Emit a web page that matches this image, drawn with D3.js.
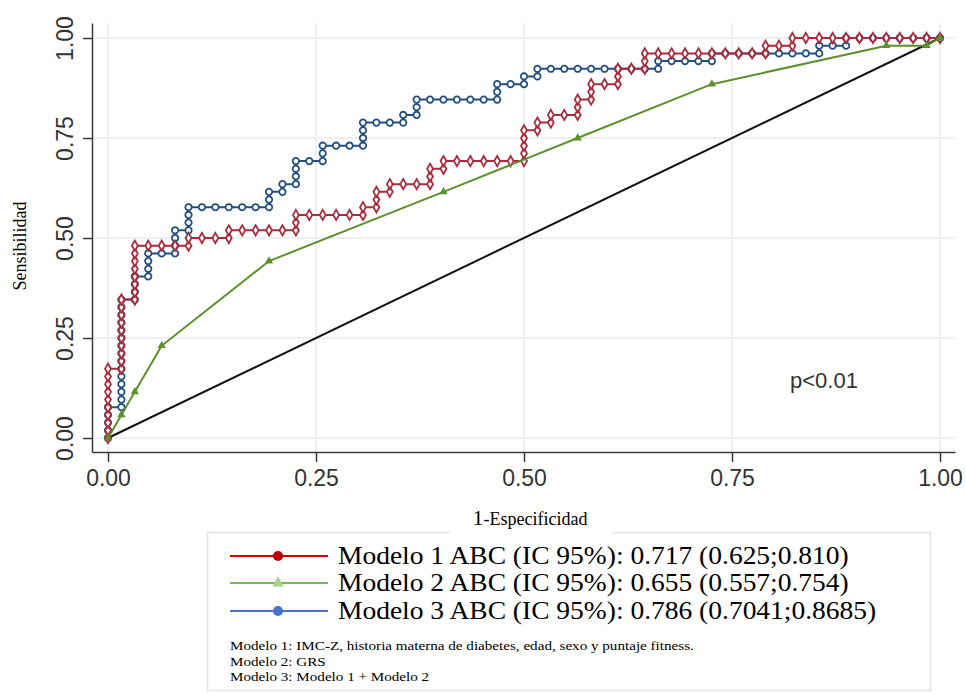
<!DOCTYPE html>
<html>
<head>
<meta charset="utf-8">
<script src="https://cdn.jsdelivr.net/npm/d3@7"></script>
<style>
  html, body { margin: 0; padding: 0; background: #fff; }
  svg { display: block; }
</style>
</head>
<body>
<svg id="chart" width="966" height="694"></svg>
<script>
// ROC curves: each point is [false positives, true positives] out of the group sizes below
const nNegatives = 62;
const nPositives = 52;

const model1Points = [
  [0,0],[0,1],[0,2],[0,3],[0,4],[0,5],[0,6],[0,7],[0,8],[0,9],
  [1,9],[1,10],[1,11],[1,12],[1,13],[1,14],[1,15],[1,16],[1,17],[1,18],
  [2,18],[2,19],[2,20],[2,21],[2,22],[2,23],[2,24],[2,25],
  [3,25],[4,25],[5,25],[6,25],[6,26],[7,26],[8,26],[9,26],[9,27],
  [10,27],[11,27],[12,27],[13,27],[14,27],[14,28],[14,29],
  [15,29],[16,29],[17,29],[18,29],[19,29],[19,30],[20,30],[20,31],[20,32],
  [21,32],[21,33],[22,33],[23,33],[24,33],[24,34],[24,35],[25,35],[25,36],
  [26,36],[27,36],[28,36],[29,36],[30,36],[31,36],[31,37],[31,38],[31,39],[31,40],
  [32,40],[32,41],[33,41],[33,42],[34,42],[35,42],[35,43],[35,44],[36,44],[36,45],[36,46],
  [37,46],[38,46],[38,47],[38,48],[39,48],[40,48],[40,49],[40,50],
  [41,50],[42,50],[43,50],[44,50],[45,50],[46,50],[47,50],[48,50],[49,50],
  [49,51],[50,51],[51,51],[51,52],
  [52,52],[53,52],[54,52],[55,52],[56,52],[57,52],[58,52],[59,52],[60,52],[61,52],[62,52]
];

const model2Points = [
  [0,0],[1,3],[2,6],[4,12],[12,23],[25,32],[35,39],[45,46],[58,51],[61,51],[62,52]
];

const model3Points = [
  [0,0],[0,1],[0,2],[0,3],[0,4],
  [1,4],[1,5],[1,6],[1,7],[1,8],[1,9],[1,10],[1,11],[1,12],[1,13],[1,14],[1,15],[1,16],[1,17],[1,18],
  [2,18],[2,19],[2,20],[2,21],[3,21],[3,22],[3,23],[3,24],[4,24],[5,24],[5,25],[5,26],[5,27],
  [6,27],[6,28],[6,29],[6,30],[7,30],[8,30],[9,30],[10,30],[11,30],[12,30],[12,31],[12,32],
  [13,32],[13,33],[14,33],[14,34],[14,35],[14,36],[15,36],[16,36],[16,37],[16,38],
  [17,38],[18,38],[19,38],[19,39],[19,40],[19,41],[20,41],[21,41],[22,41],[22,42],
  [23,42],[23,43],[23,44],[24,44],[25,44],[26,44],[27,44],[28,44],[29,44],[29,45],[29,46],
  [30,46],[31,46],[31,47],[32,47],[32,48],[33,48],[34,48],[35,48],[36,48],[37,48],[38,48],
  [39,48],[40,48],[41,48],[41,49],[42,49],[43,49],[44,49],[45,49],[45,50],
  [46,50],[47,50],[48,50],[49,50],[50,50],[51,50],[52,50],[53,50],[53,51],[54,51],[55,51],[55,52],
  [56,52],[57,52],[58,52],[59,52],[60,52],[61,52],[62,52]
];

const referenceLine = [[0,0],[1,1]];

const tickValues = [0, 0.25, 0.5, 0.75, 1];

const legendLabels = [
  "Modelo 1 ABC (IC 95%): 0.717 (0.625;0.810)",
  "Modelo 2 ABC (IC 95%): 0.655 (0.557;0.754)",
  "Modelo 3 ABC (IC 95%): 0.786 (0.7041;0.8685)"
];

const footnotes = [
  "Modelo 1: IMC-Z, historia materna de diabetes, edad, sexo y puntaje fitness.",
  "Modelo 2: GRS",
  "Modelo 3: Modelo 1 + Modelo 2"
];

const svg = d3.select("#chart");

// plot frame
const frame = { left: 92, right: 955, top: 23, bottom: 452 };

const x = d3.scaleLinear().domain([0, 1]).range([108, 940]);
const y = d3.scaleLinear().domain([0, 1]).range([438, 38]);

// axis scales share the mapping but span the whole frame
const xAxisScale = x.copy().domain([x.invert(frame.left), x.invert(frame.right)]).range([frame.left, frame.right]);
const yAxisScale = y.copy().domain([y.invert(frame.bottom), y.invert(frame.top)]).range([frame.bottom, frame.top]);

const sansFont = "'Liberation Sans', Arial, sans-serif";
const serifFont = "'Liberation Serif', 'Times New Roman', serif";

// grid
const grid = svg.append("g").attr("stroke", "#e6ebee").attr("stroke-width", 1.5);
grid.selectAll("line.gx").data(tickValues).join("line")
  .attr("x1", d => x(d)).attr("x2", d => x(d))
  .attr("y1", frame.top).attr("y2", frame.bottom);
grid.selectAll("line.gy").data(tickValues).join("line")
  .attr("x1", frame.left).attr("x2", frame.right)
  .attr("y1", d => y(d)).attr("y2", d => y(d));

// axes
const fmt = d3.format(".2f");
const xAxis = svg.append("g")
  .attr("transform", `translate(0,${frame.bottom})`)
  .call(d3.axisBottom(xAxisScale).tickValues(tickValues).tickFormat(fmt).tickSize(10).tickSizeOuter(0).tickPadding(8));
const yAxis = svg.append("g")
  .attr("transform", `translate(${frame.left},0)`)
  .call(d3.axisLeft(yAxisScale).tickValues(tickValues).tickFormat(fmt).tickSize(9).tickSizeOuter(0));

[xAxis, yAxis].forEach(g => {
  g.select(".domain").attr("stroke", "#3a3a3a").attr("stroke-width", 1.5);
  g.selectAll(".tick line").attr("stroke", "#3a3a3a").attr("stroke-width", 1.5);
  g.selectAll(".tick text").attr("fill", "#333").style("font-family", sansFont).style("font-size", "23px");
});
yAxis.selectAll(".tick text")
  .attr("x", 0).attr("y", -27).attr("dy", "0.36em")
  .attr("text-anchor", "middle")
  .attr("transform", "rotate(-90)");

// curves
const line = d3.line().x(d => x(d[0])).y(d => y(d[1]));
const toRate = pts => pts.map(([fp, tp]) => [fp / nNegatives, tp / nPositives]);

const series = [
  { pts: toRate(model3Points), color: "#234f80", marker: "circle" },
  { pts: toRate(model1Points), color: "#a92c3c", marker: "diamond" },
  { pts: toRate(model2Points), color: "#5e8f2c", marker: "triangle" }
];

// reference diagonal
svg.append("path")
  .datum(referenceLine)
  .attr("d", line)
  .attr("fill", "none").attr("stroke", "#111").attr("stroke-width", 2);

const symbolTypes = { circle: d3.symbolCircle, diamond: d3.symbolDiamond, triangle: d3.symbolTriangle };

series.forEach(s => {
  const g = svg.append("g");
  g.append("path")
    .datum(s.pts)
    .attr("d", line)
    .attr("fill", "none").attr("stroke", s.color).attr("stroke-width", 2)
    .attr("stroke-linejoin", "round");
  if (s.marker === "triangle") {
    g.selectAll("path.m").data(s.pts).join("path")
      .attr("transform", d => `translate(${x(d[0])},${y(d[1])})`)
      .attr("d", d3.symbol(symbolTypes.triangle, 30))
      .attr("fill", s.color);
  } else {
    g.selectAll("path.m").data(s.pts).join("path")
      .attr("transform", d => `translate(${x(d[0])},${y(d[1])})`)
      .attr("d", d3.symbol(symbolTypes[s.marker], s.marker === "circle" ? 32 : 30))
      .attr("fill", "#fff").attr("stroke", s.color).attr("stroke-width", 1.8);
  }
});

// annotation
svg.append("text")
  .attr("x", 790).attr("y", 388)
  .attr("fill", "#333")
  .style("font-family", sansFont).style("font-size", "22px")
  .text("p<0.01");

// axis titles
svg.append("text")
  .attr("transform", "translate(26,246) rotate(-90)")
  .attr("text-anchor", "middle")
  .style("font-family", serifFont).style("font-size", "18px")
  .text("Sensibilidad");

// legend box
const legend = svg.append("g");
legend.append("rect")
  .attr("x", 207.5).attr("y", 532.5).attr("width", 723).attr("height", 158)
  .attr("fill", "#fff").attr("stroke", "#e3e3e3").attr("stroke-width", 1.5);

svg.append("rect")
  .attr("x", 450).attr("y", 500).attr("width", 162).attr("height", 34)
  .attr("fill", "#fff");
const xTitle = svg.append("text")
  .attr("x", 530).attr("y", 525)
  .attr("text-anchor", "middle")
  .style("font-family", serifFont).style("font-size", "18px");
xTitle.append("tspan").style("font-size", "22px").text("1");
xTitle.append("tspan").text("-Especificidad");

const legendColors = [
  { line: "#d40000", marker: "#c00000", shape: "circle" },
  { line: "#78b955", marker: "#a9d18e", shape: "triangle" },
  { line: "#4a76c6", marker: "#4472c4", shape: "circle" }
];
const legendRows = [556, 583, 611];

legendLabels.forEach((label, i) => {
  const cy = legendRows[i];
  const c = legendColors[i];
  legend.append("line")
    .attr("x1", 230).attr("x2", 328).attr("y1", cy).attr("y2", cy)
    .attr("stroke", c.line).attr("stroke-width", 1.8);
  legend.append("path")
    .attr("transform", `translate(278,${cy})`)
    .attr("d", d3.symbol(c.shape === "circle" ? d3.symbolCircle : d3.symbolTriangle, c.shape === "circle" ? 80 : 60))
    .attr("fill", c.marker);
  // slightly widened serif text
  legend.append("text")
    .attr("transform", `translate(338,${cy + 8}) scale(1.1,1)`)
    .style("font-family", serifFont).style("font-size", "25px")
    .text(label);
});

footnotes.forEach((t, i) => {
  legend.append("text")
    .attr("transform", `translate(230,${650 + i * 15.5}) scale(1.12,1)`)
    .style("font-family", serifFont).style("font-size", "13.5px")
    .text(t);
});
</script>
</body>
</html>
